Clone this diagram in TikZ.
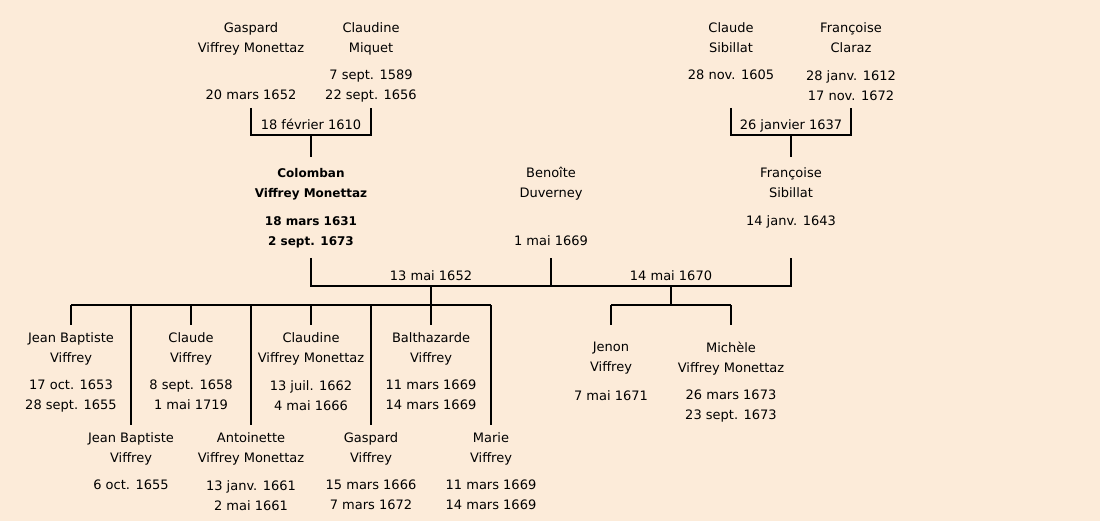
\documentclass[tikz,border=0pt]{standalone}
\usepackage{fontspec}
\setmainfont{DejaVu Sans}
\usepackage{tikz}
\definecolor{paper}{RGB}{252,235,217}

\begin{document}
\begin{tikzpicture}[x=1pt, y=-1pt]
    \tikzstyle{person} = [align=center, inner sep=0pt, anchor=north, font=\fontsize{13}{20}\selectfont]
    \tikzstyle{wed} = [inner sep=0pt, anchor=base, font=\fontsize{13}{20}\selectfont]
    \tikzstyle{link} = [line width=2pt]
    \fill[paper] (0,0) rectangle (1100,521);
    \useasboundingbox (0,0) rectangle (1100,521);

    % grandparents
    \node[person] (gaspard) at (251,22) {Gaspard\\Viffrey Monettaz};
    \node[person] (gaspardD) at (251,90) {20 mars 1652};
    \node[person] (claudineM) at (371,22) {Claudine\\Miquet};
    \node[person] (claudineMD) at (371,70) {7 sept. 1589\\22 sept. 1656};
    \node[person] (claudeS) at (731,22) {Claude\\Sibillat};
    \node[person] (claudeSD) at (731,70) {28 nov. 1605};
    \node[person] (francoiseC) at (851,22) {Françoise\\Claraz};
    \node[person] (francoiseCD) at (851,70) {28 janv. 1612\\17 nov. 1672};

    % parents
    \node[person, font=\fontsize{12}{20}\selectfont\bfseries] (colomban) at (311,168) {Colomban\\Viffrey Monettaz};
    \node[person, font=\fontsize{12}{20}\selectfont\bfseries] (colombanD) at (311,216) {18 mars 1631\\2 sept. 1673};
    \node[person] (benoite) at (551,167) {Benoîte\\Duverney};
    \node[person] (benoiteD) at (551,235) {1 mai 1669};
    \node[person] (francoiseS) at (791,167) {Françoise\\Sibillat};
    \node[person] (francoiseSD) at (791,215) {14 janv. 1643};

    % marriages
    \coordinate (m1) at (311,135);
    \coordinate (m2) at (791,135);
    \coordinate (m3) at (431,286);
    \coordinate (m4) at (671,286);
    \node[wed] (w1) at ([yshift=5pt]m1) {18 février 1610};
    \node[wed] (w2) at ([yshift=5pt]m2) {26 janvier 1637};
    \node[wed] (w3) at ([yshift=5pt]m3) {13 mai 1652};
    \node[wed] (w4) at ([yshift=5pt]m4) {14 mai 1670};

    \draw[link] (gaspard |- m1) ++(0,-27) |- (m1) -| (claudineM |- m1) -- ++(0,-27);
    \draw[link] (m1) -- ([yshift=11pt]colomban.north);
    \draw[link] (claudeS |- m2) ++(0,-27) |- (m2) -| (francoiseC |- m2) -- ++(0,-27);
    \draw[link] (m2) -- ([yshift=10pt]francoiseS.north);
    \draw[link] (colomban |- m3) ++(0,-28) |- (m3) -- (m4) -| (francoiseS |- m4) -- ++(0,-28);
    \draw[link] (benoite |- m3) -- ++(0,-28);

    % children
    \foreach \i/\x/\y/\who/\dates in {
        1/71/332/{Jean Baptiste\\Viffrey}/{17 oct. 1653\\28 sept. 1655},
        2/131/432/{Jean Baptiste\\Viffrey}/{6 oct. 1655},
        3/191/332/{Claude\\Viffrey}/{8 sept. 1658\\1 mai 1719},
        4/251/432/{Antoinette\\Viffrey Monettaz}/{13 janv. 1661\\2 mai 1661},
        5/311/332/{Claudine\\Viffrey Monettaz}/{13 juil. 1662\\4 mai 1666},
        6/371/432/{Gaspard\\Viffrey}/{15 mars 1666\\7 mars 1672},
        7/431/332/{Balthazarde\\Viffrey}/{11 mars 1669\\14 mars 1669},
        8/491/432/{Marie\\Viffrey}/{11 mars 1669\\14 mars 1669},
        9/611/342/{Jenon\\Viffrey}/{7 mai 1671},
        10/731/342/{Michèle\\Viffrey Monettaz}/{26 mars 1673\\23 sept. 1673}} {
        \node[person] (kid\i) at (\x,\y) {\who};
        \node[person] (date\i) at (\x,\y+48) {\dates};
    }

    \coordinate (k1) at (431,305);
    \coordinate (k2) at (671,305);
    \draw[link] (m3) -- (k1);
    \draw[link] (m4) -- (k2);
    \draw[link] (kid1 |- k1) -- (kid8 |- k1);
    \draw[link] (kid9 |- k2) -- (kid10 |- k2);
    \foreach \i in {1,...,8} {
        \draw[link] (kid\i |- k1) -- ([yshift=7pt]kid\i.north);
    }
    \foreach \i in {9,10} {
        \draw[link] (kid\i |- k2) -- ([yshift=17pt]kid\i.north);
    }
\end{tikzpicture}
\end{document}
